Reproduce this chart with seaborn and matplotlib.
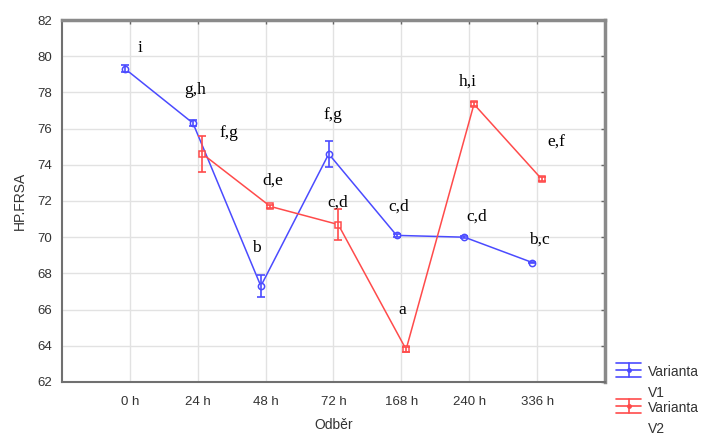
import pandas as pd
import matplotlib.pyplot as plt
from matplotlib.lines import Line2D
from matplotlib.legend_handler import HandlerBase
import seaborn as sns

# sampling times (Odběr)
times = ["0 h", "24 h", "48 h", "72 h", "168 h", "240 h", "336 h"]

# Varianta V1
v1_idx = [0, 1, 2, 3, 4, 5, 6]
v1_mean = [79.3, 76.3, 67.3, 74.6, 70.1, 70.0, 68.6]
v1_err = [0.2, 0.15, 0.6, 0.7, 0.1, 0.05, 0.05]
v1_letters = ["i", "g,h", "b", "f,g", "c,d", "c,d", "b,c"]

# Varianta V2 (no 0 h sample)
v2_idx = [1, 2, 3, 4, 5, 6]
v2_mean = [74.6, 71.7, 70.7, 63.8, 77.35, 73.2]
v2_err = [1.0, 0.1, 0.85, 0.15, 0.1, 0.1]
v2_letters = ["f,g", "d,e", "c,d", "a", "h,i", "e,f"]

# where the letters sit relative to each point (dx in categories, dy in y units)
v1_txt_off = [(0.22, 1.15), (0.03, 1.83), (-0.07, 2.1), (0.06, 2.15),
              (0.03, 1.57), (0.18, 1.12), (0.11, 1.25)]
v2_txt_off = [(0.39, 1.16), (0.04, 1.4), (-0.01, 1.2), (-0.05, 2.18),
              (-0.09, 1.22), (0.22, 2.0)]

blue = "#4b4bff"
red = "#ff4b4b"
shift = 0.07

sns.set_theme(style="white")
plt.rcParams["font.family"] = ["Liberation Sans", "DejaVu Sans"]

df1 = pd.DataFrame({"pos": [i - shift for i in v1_idx], "mean": v1_mean, "err": v1_err})
df2 = pd.DataFrame({"pos": [i + shift for i in v2_idx], "mean": v2_mean, "err": v2_err})

fig = plt.figure(figsize=(7.06, 4.33), dpi=100)
ax = fig.add_axes([0.0878, 0.1178, 0.7691, 0.836])

for d, c, m in [(df1, blue, "o"), (df2, red, "s")]:
    sns.lineplot(data=d, x="pos", y="mean", color=c, marker=m, markersize=4.5,
                 markerfacecolor="white", markeredgecolor=c, markeredgewidth=1.1,
                 linewidth=1.1, ax=ax, zorder=3)
    ax.errorbar(d["pos"], d["mean"], yerr=d["err"], fmt="none", ecolor=c,
                elinewidth=1.2, capsize=3, capthick=1.2, zorder=3)

for d, letters, offs in [(df1, v1_letters, v1_txt_off), (df2, v2_letters, v2_txt_off)]:
    for x, y, t, (dx, dy) in zip(d["pos"], d["mean"], letters, offs):
        ax.text(x + dx, y + dy, t, ha="center", va="center", fontsize=12.5,
                family="Liberation Serif", color="black", zorder=4)

ax.set_xlim(-1, 7)
ax.set_ylim(62, 82)
ax.set_xticks(range(len(times)))
ax.set_xticklabels(times)
ax.set_yticks(range(62, 83, 2))
ax.grid(True, color="#e2e2e2", linewidth=1)
ax.set_axisbelow(True)

ax.tick_params(direction="in", length=3, width=1, color="#666666", top=True, right=True,
               labelsize=9.5, labelcolor="#333333")
ax.tick_params(axis="y", pad=7)
ax.tick_params(axis="x", pad=10)

for s in ["left", "bottom"]:
    ax.spines[s].set_color("#707070")
    ax.spines[s].set_linewidth(1.5)
for s in ["top", "right"]:
    ax.spines[s].set_color("#8a8a8a")
    ax.spines[s].set_linewidth(2.5)

ax.set_xlabel("Odběr", fontsize=10, color="#333333", labelpad=7)
ax.set_ylabel("HP.FRSA", fontsize=10, color="#333333", labelpad=8)


class StatHandler(HandlerBase):
    # statistica-like legend key: line, whiskers and wide caps
    def create_artists(self, legend, orig, xd, yd, w, h, fs, trans):
        c = orig.get_color()
        x0, x1 = -xd, -xd + w
        yc = -yd + h / 2 + 9.5
        xm = (x0 + x1) / 2
        arts = [
            Line2D([x0, x1], [yc, yc], color=c, lw=1.2),
            Line2D([x0, x1], [yc + 5, yc + 5], color=c, lw=1.2),
            Line2D([x0, x1], [yc - 5, yc - 5], color=c, lw=1.2),
            Line2D([xm, xm], [yc - 5, yc + 5], color=c, lw=1.2),
            Line2D([xm], [yc], color=c, marker="o", ms=2.5),
        ]
        for a in arts:
            a.set_transform(trans)
        return arts


handles = [Line2D([], [], color=blue), Line2D([], [], color=red)]
leg = fig.legend(handles, ["Varianta\nV1", "Varianta\nV2"], loc="upper left",
                 bbox_to_anchor=(0.873, 0.156), frameon=False, fontsize=10,
                 handlelength=1.8, handletextpad=0.5, labelspacing=0.1,
                 borderpad=0, borderaxespad=0,
                 handler_map={Line2D: StatHandler()})
for t in leg.get_texts():
    t.set_color("#333333")
    t.set_linespacing(1.6)

fig.savefig("out.png", dpi=100)
